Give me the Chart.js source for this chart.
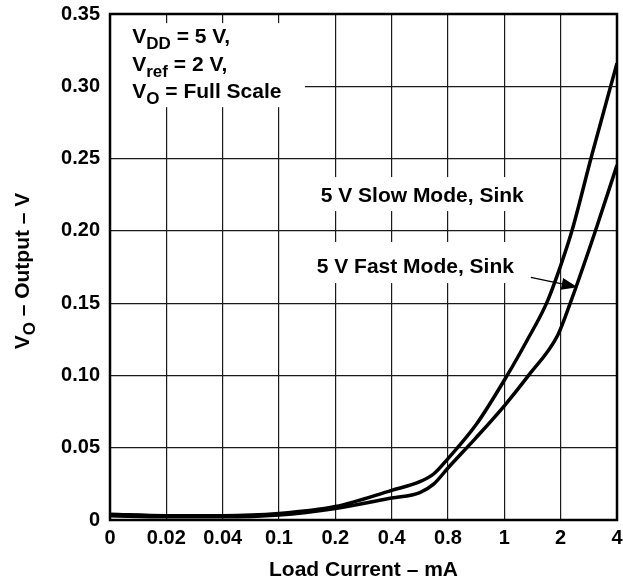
<!DOCTYPE html>
<html>
<head>
<meta charset="utf-8">
<script src="https://cdn.jsdelivr.net/npm/chart.js@4.4.0/dist/chart.umd.min.js"></script>
<style>
  html, body { margin: 0; padding: 0; background: #fff; }
  #wrap { width: 623px; height: 580px; }
</style>
</head>
<body>
<div id="wrap"><canvas id="myChart" width="623" height="580"></canvas></div>
<script>
// x axis is evenly spaced categories of load current (mA), so points use the tick index
const xTickLabels = ["0", "0.02", "0.04", "0.1", "0.2", "0.4", "0.8", "1", "2", "4"];

// 5 V Slow Mode, Sink
const slowX = [0, 1, 2, 3, 4, 5, 5.5, 5.75, 6, 6.5, 7.05, 7.4, 7.75, 8, 8.2, 8.55, 9];
const slowY = [0.0040, 0.0030, 0.0030, 0.0045, 0.0093, 0.0205, 0.0265, 0.032, 0.0425, 0.066, 0.100, 0.124, 0.150, 0.176, 0.200, 0.252, 0.316];

// 5 V Fast Mode, Sink
const fastX = [0, 1, 2, 3, 4, 5, 5.5, 5.75, 6, 6.5, 7, 7.43, 7.95, 8.17, 8.6, 9];
const fastY = [0.0030, 0.0022, 0.0022, 0.0035, 0.0080, 0.0152, 0.0190, 0.0250, 0.0360, 0.057, 0.079, 0.100, 0.128, 0.150, 0.198, 0.2455];

const FONT = '"Liberation Sans", Arial, Helvetica, sans-serif';

function toPoints(xs, ys) {
  return xs.map((x, i) => ({ x: x, y: ys[i] }));
}

// draw a line of text made of normal and subscript parts
function drawRich(ctx, parts, x, y, size) {
  let cx = x;
  parts.forEach(p => {
    const s = p.sub ? Math.round(size * 0.82) : size;
    ctx.font = "bold " + s + "px " + FONT;
    ctx.fillText(p.t, cx, p.sub ? y + 6 : y);
    cx += ctx.measureText(p.t).width;
  });
  return cx - x;
}

function richWidth(ctx, parts, size) {
  let w = 0;
  parts.forEach(p => {
    const s = p.sub ? Math.round(size * 0.82) : size;
    ctx.font = "bold " + s + "px " + FONT;
    w += ctx.measureText(p.t).width;
  });
  return w;
}

const decorPlugin = {
  id: "decor",
  beforeDatasetsDraw(chart) {
    const { ctx, chartArea: a, scales: { x, y } } = chart;
    ctx.save();
    // white boxes behind the notes, the grid is hidden there
    ctx.fillStyle = "#fff";
    const box = (x0, x1, y0, y1) => {
      const px0 = x.getPixelForValue(x0), px1 = x.getPixelForValue(x1);
      const py0 = y.getPixelForValue(y0), py1 = y.getPixelForValue(y1);
      ctx.fillRect(px0, py0, px1 - px0, py1 - py0);
    };
    box(0, 3.46, 0.3437, 0.2856);
    box(3.59, 7.46, 0.2372, 0.2137);
    box(3.52, 7.28, 0.1923, 0.1639);

    ctx.fillStyle = "#000";
    ctx.textBaseline = "alphabetic";
    ctx.textAlign = "left";
    const lx = x.getPixelForValue(0.395);
    drawRich(ctx, [{ t: "V" }, { t: "DD", sub: true }, { t: " = 5 V," }], lx, y.getPixelForValue(0.3297), 21);
    drawRich(ctx, [{ t: "V" }, { t: "ref", sub: true }, { t: " = 2 V," }], lx, y.getPixelForValue(0.3103), 21);
    drawRich(ctx, [{ t: "V" }, { t: "O", sub: true }, { t: " = Full Scale" }], lx, y.getPixelForValue(0.2918), 21);

    ctx.font = "bold 21px " + FONT;
    ctx.fillText("5 V Slow Mode, Sink", x.getPixelForValue(3.74), y.getPixelForValue(0.2201));
    ctx.fillText("5 V Fast Mode, Sink", x.getPixelForValue(3.67), y.getPixelForValue(0.1708));
    ctx.restore();
  },
  afterDatasetsDraw(chart) {
    const { ctx, chartArea: a, scales: { x, y } } = chart;
    ctx.save();
    // arrow pointing at the fast mode curve
    const tx = x.getPixelForValue(7.47), ty = y.getPixelForValue(0.1678);
    const hx = x.getPixelForValue(8.30), hy = y.getPixelForValue(0.161);
    const ang = Math.atan2(hy - ty, hx - tx);
    const len = 16, half = 6;
    const bx = hx - len * Math.cos(ang), by = hy - len * Math.sin(ang);
    ctx.strokeStyle = "#000";
    ctx.lineWidth = 1.3;
    ctx.beginPath();
    ctx.moveTo(tx, ty);
    ctx.lineTo(bx, by);
    ctx.stroke();
    ctx.fillStyle = "#000";
    ctx.beginPath();
    ctx.moveTo(hx, hy);
    ctx.lineTo(bx + half * Math.sin(ang), by - half * Math.cos(ang));
    ctx.lineTo(bx - half * Math.sin(ang), by + half * Math.cos(ang));
    ctx.closePath();
    ctx.fill();

    // frame round the plot
    ctx.lineWidth = 2.5;
    ctx.strokeRect(a.left, a.top, a.right - a.left, a.bottom - a.top);
    ctx.restore();
  },
  afterDraw(chart) {
    const { ctx, chartArea: a } = chart;
    ctx.save();
    ctx.fillStyle = "#000";
    ctx.textBaseline = "alphabetic";
    // x axis title
    ctx.font = "bold 21px " + FONT;
    ctx.textAlign = "center";
    ctx.fillText("Load Current \u2013 mA", (a.left + a.right) / 2, 576);
    // y axis title with subscript
    const parts = [{ t: "V" }, { t: "O", sub: true }, { t: " \u2013 Output \u2013 V" }];
    ctx.textAlign = "left";
    const w = richWidth(ctx, parts, 21);
    ctx.translate(29, (a.top + a.bottom) / 2 + 4);
    ctx.rotate(-Math.PI / 2);
    drawRich(ctx, parts, -w / 2, 0, 21);
    ctx.restore();
  }
};

const ctx = document.getElementById("myChart").getContext("2d");
const myChart = new Chart(ctx, {
  type: "line",
  data: {
    datasets: [
      {
        label: "5 V Slow Mode, Sink",
        data: toPoints(slowX, slowY),
        borderColor: "#000",
        borderWidth: 3.5,
        pointRadius: 0,
        cubicInterpolationMode: "monotone",
        fill: false
      },
      {
        label: "5 V Fast Mode, Sink",
        data: toPoints(fastX, fastY),
        borderColor: "#000",
        borderWidth: 3.5,
        pointRadius: 0,
        cubicInterpolationMode: "monotone",
        fill: false
      }
    ]
  },
  options: {
    responsive: false,
    animation: false,
    layout: { padding: { top: 14, right: 6, left: 0, bottom: 0 } },
    plugins: {
      legend: { display: false },
      tooltip: { enabled: false }
    },
    scales: {
      x: {
        type: "linear",
        min: 0,
        max: 9,
        afterFit: s => {
          s.height = 60;
          s.paddingLeft = 0;
          s.paddingRight = 0;
        },
        afterBuildTicks: s => { s.ticks = xTickLabels.map((_, i) => ({ value: i })); },
        ticks: {
          stepSize: 1,
          autoSkip: false,
          maxRotation: 0,
          padding: 6,
          color: "#000",
          font: { family: FONT, size: 20, weight: "bold" },
          callback: v => xTickLabels[v]
        },
        grid: { color: "#1a1a1a", lineWidth: 1.2, drawTicks: false },
        border: { display: false }
      },
      y: {
        min: 0,
        max: 0.35,
        afterFit: s => {
          s.width = 110;
          s.paddingTop = 0;
          s.paddingBottom = 0;
        },
        ticks: {
          stepSize: 0.05,
          padding: 10,
          color: "#000",
          font: { family: FONT, size: 20, weight: "bold" },
          callback: v => (Math.abs(v) < 1e-9 ? "0" : v.toFixed(2))
        },
        grid: { color: "#1a1a1a", lineWidth: 1.2, drawTicks: false },
        border: { display: false }
      }
    }
  },
  plugins: [decorPlugin]
});
</script>
</body>
</html>
